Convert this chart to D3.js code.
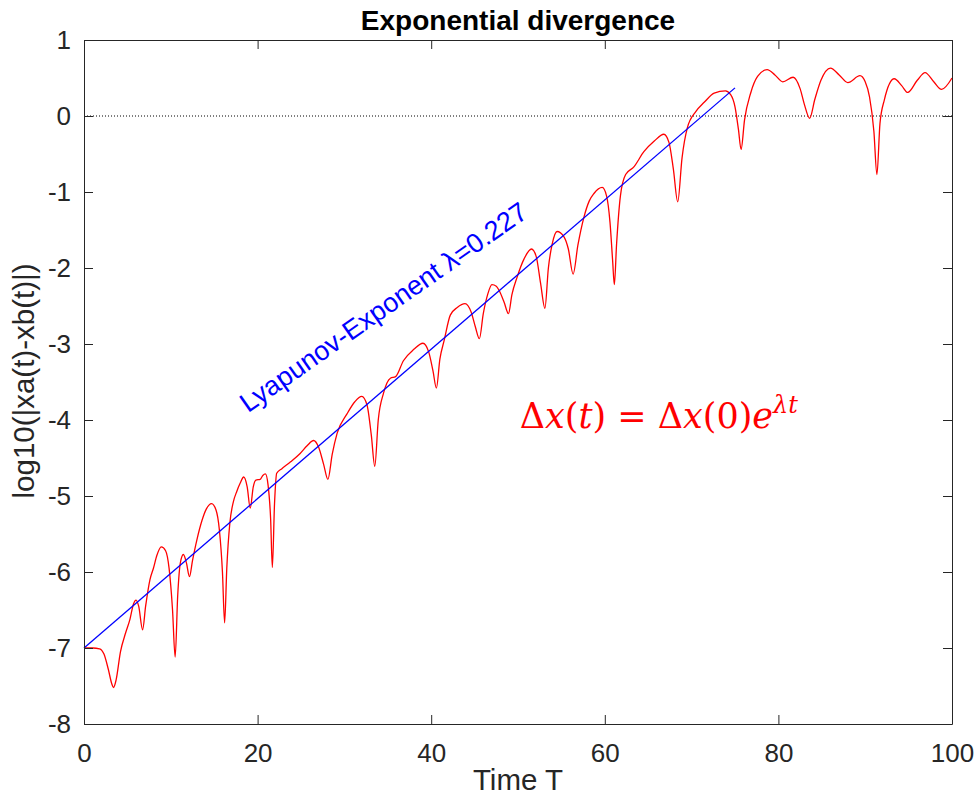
<!DOCTYPE html>
<meta charset="utf-8">
<style>
body { margin: 0; background: #fff; }
.line { fill: none; }
.axis text { fill: #262626; font-family: "Liberation Sans", Arial, sans-serif; }
</style>
<body>
<script src="https://d3js.org/d3.v7.min.js"></script>
<script>

// red curve: time and log10 distance
var timeT = [0, 1.0, 1.8, 2.3, 2.8, 3.2, 3.4, 3.7, 4.2, 4.8, 5.3, 5.7, 6.0, 6.3, 6.75, 7.1, 7.6, 8.0, 8.4, 8.9,
    9.4, 9.8, 10.2, 10.5, 10.8, 11.1, 11.45, 11.8, 12.15, 12.5, 13.0, 13.6, 14.1, 14.7, 15.2, 15.6, 15.95, 16.2, 16.45, 16.8,
    17.2, 17.6, 18.0, 18.4, 18.8, 19.15, 19.5, 19.8, 20.3, 20.6, 20.9, 21.2, 21.5, 21.7, 21.95, 22.2, 22.8, 23.8, 24.9, 25.7,
    26.45, 27.0, 27.6, 28.1, 28.6, 29.15, 30.3, 31.2, 32.0, 32.6, 33.1, 33.5, 33.9, 34.5, 35.3, 35.9, 36.8, 38.0, 39.05, 39.7,
    40.2, 40.6, 41.0, 41.5, 42.2, 43.0, 43.9, 44.6, 45.1, 45.55, 46.0, 46.5, 47.0, 47.5, 47.8, 48.4, 48.9, 49.3, 49.9, 50.7,
    51.55, 52.1, 52.6, 53.1, 53.5, 53.95, 54.5, 55.3, 55.8, 56.35, 56.9, 57.6, 58.2, 58.75, 59.7, 60.2, 60.6, 60.9, 61.1, 61.35,
    61.8, 62.4, 63.35, 64.5, 65.7, 66.8, 67.4, 67.9, 68.4, 68.9, 69.5, 70.5, 71.45, 72.6, 73.9, 74.5, 75.0, 75.4, 75.7, 76.1,
    76.8, 77.6, 78.7, 79.6, 80.5, 81.7, 82.5, 83.0, 83.6, 84.2, 84.9, 86.0, 87.0, 88.0, 89.4, 90.0, 90.5, 91.0, 91.35, 91.7,
    92.2, 93.35, 94.2, 94.9, 96.0, 96.9, 97.9, 98.8, 100];
var logDist = [-7.00, -7.00, -7.01, -7.08, -7.28, -7.47, -7.52, -7.42, -7.05, -6.80, -6.62, -6.42, -6.37, -6.45, -6.76, -6.45, -6.10, -5.95, -5.78, -5.67,
    -5.72, -5.95, -6.5, -7.12, -6.3, -5.88, -5.77, -5.88, -6.06, -5.85, -5.58, -5.32, -5.17, -5.10, -5.18, -5.45, -6.0, -6.67, -5.95, -5.36,
    -5.08, -4.94, -4.83, -4.75, -4.88, -5.16, -4.88, -4.79, -4.78, -4.73, -4.71, -4.85, -5.3, -5.94, -5.1, -4.70, -4.64, -4.55, -4.44, -4.34,
    -4.27, -4.35, -4.58, -4.78, -4.45, -4.18, -3.92, -3.76, -3.69, -3.80, -4.2, -4.61, -4.0, -3.65, -3.45, -3.43, -3.22, -3.07, -2.99, -3.1,
    -3.35, -3.58, -3.2, -2.95, -2.62, -2.52, -2.47, -2.58, -2.78, -2.93, -2.6, -2.35, -2.22, -2.24, -2.29, -2.45, -2.60, -2.35, -2.12, -1.88,
    -1.75, -1.85, -2.2, -2.53, -2.0, -1.68, -1.52, -1.59, -1.75, -2.08, -1.7, -1.33, -1.12, -1.02, -0.94, -1.05, -1.4, -1.9, -2.22, -1.7,
    -1.05, -0.77, -0.67, -0.47, -0.33, -0.24, -0.35, -0.7, -1.13, -0.55, -0.16, 0.06, 0.18, 0.30, 0.33, 0.28, 0.12, -0.18, -0.44, -0.05,
    0.30, 0.52, 0.61, 0.54, 0.45, 0.51, 0.36, 0.15, -0.03, 0.22, 0.47, 0.63, 0.54, 0.44, 0.53, 0.45, 0.25, -0.2, -0.77, -0.1,
    0.21, 0.49, 0.40, 0.31, 0.47, 0.57, 0.45, 0.35, 0.50];

// blue fitted line
var fitT = [0, 75];
var fitY = [-7.0, 0.37];

// zero reference
var zeroT = [0, 100];
var zeroY = [0, 0];

var xTicks = [0, 20, 40, 60, 80, 100];
var yTicks = [1, 0, -1, -2, -3, -4, -5, -6, -7, -8];

// set the dimensions and margins of the graph
var margin = {top: 40, right: 25, bottom: 79, left: 84},
    width = 977 - margin.left - margin.right,
    height = 803 - margin.top - margin.bottom;

var x = d3.scaleLinear().domain([0, 100]).range([0, width]);
var y = d3.scaleLinear().domain([-8, 1]).range([height, 0]);

var svg = d3.select("body").append("svg")
    .attr("width", 977)
    .attr("height", 803)
    .append("g")
    .attr("transform", "translate(" + margin.left + "," + margin.top + ")");

function pairs(a, b) {
    return a.map(function (d, i) { return [d, b[i]]; });
}

var valueline = d3.line()
    .x(function (d) { return x(d[0]); })
    .y(function (d) { return y(d[1]); });

// dotted zero line
svg.append("path")
    .datum(pairs(zeroT, zeroY))
    .attr("class", "line")
    .attr("stroke", "#000")
    .attr("stroke-width", 1)
    .attr("stroke-dasharray", "1,2")
    .attr("d", valueline);

// divergence curve
svg.append("path")
    .datum(pairs(timeT, logDist))
    .attr("class", "line")
    .attr("stroke", "#ff0000")
    .attr("stroke-width", 1.3)
    .attr("d", valueline.curve(d3.curveMonotoneX));

// fit line
svg.append("path")
    .datum(pairs(fitT, fitY))
    .attr("class", "line")
    .attr("stroke", "#0000ff")
    .attr("stroke-width", 1.3)
    .attr("d", d3.line().x(function (d) { return x(d[0]); }).y(function (d) { return y(d[1]); }));

// axes, ticks pointing inwards, mirrored on top and right
var plain = function (d) { return String(d); };  // hyphen minus like the original
var gx = svg.append("g")
    .attr("class", "axis")
    .attr("transform", "translate(0," + height + ")")
    .call(d3.axisBottom(x).tickValues(xTicks).tickFormat(plain).tickSizeInner(-9).tickSizeOuter(0).tickPadding(20));
var gy = svg.append("g")
    .attr("class", "axis")
    .call(d3.axisLeft(y).tickValues(yTicks).tickFormat(plain).tickSizeInner(-9).tickSizeOuter(0).tickPadding(13));
var gt = svg.append("g")
    .attr("class", "axis")
    .call(d3.axisTop(x).tickValues(xTicks).tickSizeInner(-9).tickSizeOuter(0).tickFormat(""));
var gr = svg.append("g")
    .attr("class", "axis")
    .attr("transform", "translate(" + width + ",0)")
    .call(d3.axisRight(y).tickValues(yTicks).tickSizeInner(-9).tickSizeOuter(0).tickFormat(""));

svg.selectAll(".axis path, .axis line").attr("stroke", "#262626");
svg.selectAll(".axis text").style("font-size", "26px");
gx.selectAll("text").attr("dy", "0.71em");

// title and labels
svg.append("text")
    .attr("x", width / 2)
    .attr("y", -10)
    .attr("text-anchor", "middle")
    .style("font-family", "Liberation Sans, Arial, sans-serif")
    .style("font-weight", "bold")
    .style("font-size", "28px")
    .text("Exponential divergence");

svg.append("text")
    .attr("x", width / 2)
    .attr("y", height + 66)
    .attr("text-anchor", "middle")
    .attr("fill", "#262626")
    .style("font-family", "Liberation Sans, Arial, sans-serif")
    .style("font-size", "29.5px")
    .text("Time T");

svg.append("text")
    .attr("transform", "translate(" + (34 - margin.left) + "," + (381 - margin.top) + ") rotate(-90)")
    .attr("text-anchor", "middle")
    .attr("fill", "#262626")
    .style("font-family", "Liberation Sans, Arial, sans-serif")
    .style("font-size", "29.5px")
    .text("log10(|xa(t)-xb(t)|)");

// lyapunov label
svg.append("text")
    .attr("transform", "translate(" + x(18.9) + "," + y(-3.91) + ") rotate(-35)")
    .attr("fill", "#0000ff")
    .style("font-family", "Liberation Sans, Arial, sans-serif")
    .style("font-size", "27px")
    .text("Lyapunov-Exponent λ=0.227");

// formula
var eq = svg.append("text")
    .attr("x", x(50.2))
    .attr("y", y(-4.11))
    .attr("fill", "#ff0000")
    .style("font-family", "DejaVu Serif, serif")
    .style("font-size", "35px");
eq.append("tspan").text("Δ");
eq.append("tspan").style("font-style", "italic").text("x");
eq.append("tspan").text("(");
eq.append("tspan").style("font-style", "italic").text("t");
eq.append("tspan").text(") = Δ");
eq.append("tspan").style("font-style", "italic").text("x");
eq.append("tspan").text("(0)");
eq.append("tspan").style("font-style", "italic").text("e");
eq.append("tspan").style("font-style", "italic").style("font-size", "24px").attr("dy", -15).text("λt");

</script>
</body>
